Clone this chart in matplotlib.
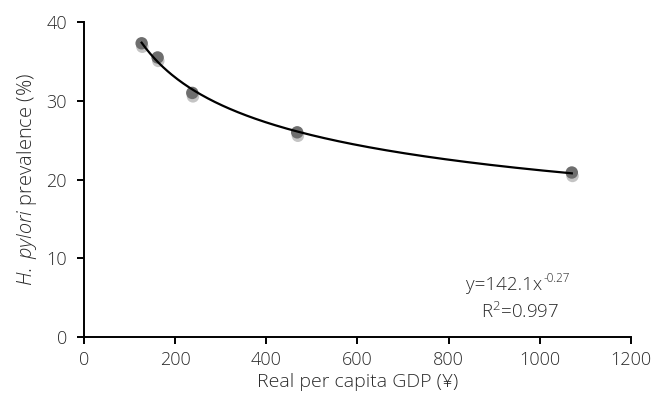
import numpy as np
import matplotlib
matplotlib.use("Agg")
from matplotlib import pyplot as plt
import matplotlib.patheffects as pe

plt.rcParams['font.family'] = ['Open Sans', 'DejaVu Sans']
plt.rcParams['font.weight'] = 'light'
plt.rcParams['axes.labelweight'] = 'light'
plt.rcParams['mathtext.fontset'] = 'custom'
plt.rcParams['mathtext.rm'] = 'Open Sans:light'
plt.rcParams['mathtext.it'] = 'Open Sans:italic:light'

gdp = [127, 162, 238, 468, 1070]
prevalence = [37.3, 35.5, 31.0, 26.0, 20.9]
x_ticks = [0, 200, 400, 600, 800, 1000, 1200]
y_ticks = [0, 10, 20, 30, 40]

txt = '#2a2a2a'

fig = plt.figure(figsize=(6.54, 4.0), dpi=100)
ax = fig.add_axes([0.128, 0.157, 0.837, 0.788])

# power trendline fitted in log-log space
b, log_a = np.polyfit(np.log(gdp), np.log(prevalence), 1)
xs = np.linspace(min(gdp), max(gdp), 300)
ax.plot(xs, np.exp(log_a) * xs ** b, color='black', lw=1.6, zorder=3)

ax.scatter(gdp, prevalence, s=80, color='#6e6e6e', zorder=2, linewidths=0,
           path_effects=[pe.SimplePatchShadow(offset=(0.5, -2.5), shadow_rgbFace='#8a8a8a', alpha=0.5),
                         pe.Normal()])

ax.set_xlim(0, 1200)
ax.set_ylim(0, 40)
ax.set_xticks(x_ticks)
ax.set_yticks(y_ticks)
for s in ['top', 'right']:
    ax.spines[s].set_visible(False)
for s in ['left', 'bottom']:
    ax.spines[s].set_linewidth(1.4)
ax.tick_params(direction='out', length=5, width=1.4, labelsize=13, colors='black',
               labelcolor=txt)
ax.tick_params(axis='x', pad=5)
ax.tick_params(axis='y', pad=7)

ax.set_xlabel('Real per capita GDP (¥)', fontsize=14, color=txt, labelpad=3)
ax.set_ylabel(r'$\mathit{H.\ pylori}$ prevalence (%)', fontsize=14.5, color=txt, labelpad=5)

# equation: main part + hyphenated superscript
ax.text(1006, 6.6, 'y=142.1x', ha='right', va='center', fontsize=13.5, color=txt)
ax.annotate('-0.27', xy=(1006, 6.6), xytext=(0.5, 5), textcoords='offset points',
            ha='left', va='center', fontsize=8.5, color=txt)
ax.text(956, 3.2, 'R$^{2}$=0.997', ha='center', va='center', fontsize=13.5, color=txt)

plt.savefig('out.png', dpi=100)
